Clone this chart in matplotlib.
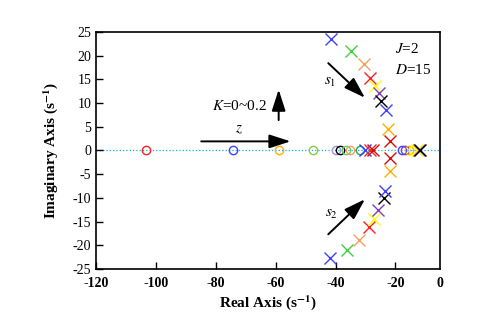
import matplotlib.pyplot as plt
import numpy as np

plt.rcParams['font.family'] = ['Liberation Serif', 'DejaVu Serif']
plt.rcParams['mathtext.fontset'] = 'stix'
plt.rcParams['axes.unicode_minus'] = False

# complex poles, upper branch s1 (top to bottom) and lower branch s2
pole_colors = ['#3f3fff', '#44cc44', '#f4a060', '#ff2020', '#ffff00',
               '#8040c0', '#000000', '#3f3fff', '#ffb000', '#d01010']
s1_re = [-41.4, -34.8, -30.6, -28.4, -26.7, -25.4, -24.7, -23.1, -22.6, -21.7]
s1_im = [23.4, 21.0, 18.2, 15.2, 13.6, 12.0, 10.4, 8.6, 4.5, 2.0]
s2_re = [-41.7, -36.2, -32.3, -28.9, -27.3, -25.8, -23.9, -23.3, -21.9, -21.7]
s2_im = [-22.6, -20.9, -18.9, -16.1, -14.4, -12.5, -10.1, -8.5, -4.4, -1.6]

# zeros (circles) on the real axis
zero_re = [-103.4, -74.4, -59.0, -47.4, -40.0, -38.4, -36.6, -35.0, -31.7,
           -17.8, -16.9, -15.5, -14.0]
zero_colors = ['#ff2020', '#3f3fff', '#ffb000', '#88cc44', '#9999dd', '#000000',
               '#66cc66', '#f4a060', '#22aa55',
               '#3f3fff', '#8040c0', '#ffb000', '#ffff00']

# real poles (crosses) on the real axis
real_re = [-30.0, -28.6, -27.6, -12.8, -12.0, -11.6]
real_colors = ['#3f3fff', '#ff2020', '#d01010', '#ffff00', '#8040c0', '#000000']

fig = plt.figure(figsize=(4.93, 3.28), dpi=100)
ax = fig.add_axes([0.195, 0.180, 0.698, 0.723])

ax.axhline(0, color='#00b0f0', ls=':', lw=0.9, zorder=1)

for x, y, c in zip(s1_re, s1_im, pole_colors):
    ax.plot(x, y, 'x', color=c, ms=8.5, mew=1.0, zorder=3)
for x, y, c in zip(s2_re, s2_im, pole_colors):
    ax.plot(x, y, 'x', color=c, ms=8.5, mew=1.0, zorder=3)
for x, c in zip(zero_re, zero_colors):
    ax.plot(x, 0, 'o', mfc='none', mec=c, ms=6, mew=1.0, zorder=3)
for x, c in zip(real_re, real_colors):
    ax.plot(x, 0, 'x', color=c, ms=8.5, mew=1.0, zorder=4)

arw = dict(arrowstyle='-|>,head_length=1.3,head_width=0.42', color='black', lw=1.4)
ax.annotate('', xy=(-54.1, 1.9), xytext=(-85.8, 1.9), arrowprops=arw)
ax.annotate('', xy=(-59.0, 13.4), xytext=(-59.0, 5.8), arrowprops=arw)
ax.annotate('', xy=(-29.5, 10.7), xytext=(-43.1, 18.8), arrowprops=arw)
ax.annotate('', xy=(-29.5, -9.9), xytext=(-43.1, -18.1), arrowprops=arw)

ax.text(-72.2, 4.3, r'$z$', fontsize=11, ha='center', va='center')
ax.text(-72.1, 9.3, r'$K$=0~0.2', fontsize=11, ha='center', va='center')
ax.text(-41.7, 14.4, r'$s_1$', fontsize=11, ha='center', va='center')
ax.text(-41.2, -13.6, r'$s_2$', fontsize=11, ha='center', va='center')
ax.text(-20.2, 21.4, r'$J$=2', fontsize=11, ha='left', va='center')
ax.text(-20.2, 17.0, r'$D$=15', fontsize=11, ha='left', va='center')

ax.set_xlim(-120, -5)
ax.set_ylim(-25, 25)
ax.set_xticks([-120, -100, -80, -60, -40, -20, -5])
ax.set_xticklabels(['-120', '-100', '-80', '-60', '-40', '-20', '0'], fontweight='bold')
ax.set_yticks(np.arange(-25, 26, 5))
ax.tick_params(direction='in', length=5, width=1, labelsize=10)
ax.tick_params(axis='x', pad=6)
ax.xaxis.get_major_ticks()[-1].tick1line.set_visible(False)
for sp in ax.spines.values():
    sp.set_linewidth(1.2)

ax.set_xlabel('Real Axis (s$^{\\mathbf{-1}}$)', fontsize=11, fontweight='bold', labelpad=2)
ax.set_ylabel('Imaginary Axis (s$^{\\mathbf{-1}}$)', fontsize=11, fontweight='bold', labelpad=9)

fig.savefig('out.png', dpi=100)
